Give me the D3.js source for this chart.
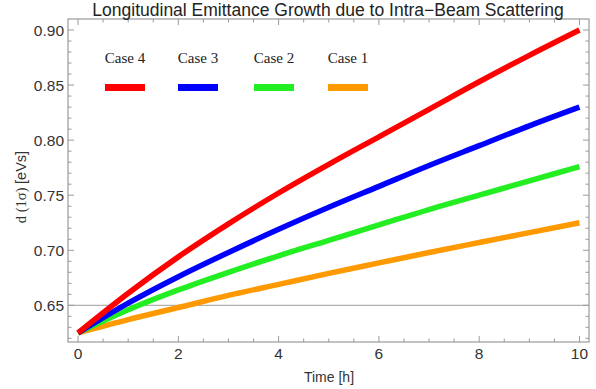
<!DOCTYPE html>
<html><head><meta charset="utf-8">
<script src="https://cdn.jsdelivr.net/npm/d3@7"></script>
<style>body{margin:0;background:#fff}svg{display:block}</style>
</head><body>
<svg id="c" width="596" height="389"></svg>
<script>
const hours = [0,1,2,3,4,5,6,7,8,9,10];
const case4 = [0.625,0.661,0.694,0.724,0.752,0.778,0.803,0.828,0.853,0.877,0.900];
const case3 = [0.625,0.652,0.676,0.698,0.719,0.739,0.758,0.777,0.795,0.813,0.830];
const case2 = [0.625,0.646,0.664,0.680,0.695,0.709,0.723,0.737,0.750,0.763,0.776];
const case1 = [0.625,0.637,0.648,0.659,0.669,0.679,0.6885,0.698,0.707,0.716,0.725];
const seriesNames = ["Case 4","Case 3","Case 2","Case 1"];
const seriesColors = ["#ff0000","#0000ff","#22ee22","#ff9900"];
const xTicks = [0,2,4,6,8,10];
const yTicks = [0.65,0.70,0.75,0.80,0.85,0.90];
const refLine = 0.65;

const svg = d3.select("#c");
const L=68,R=589,T=19,B=342;
const x = d3.scaleLinear().domain([-0.2,10.19]).range([L,R]);
const y = d3.scaleLinear().domain([0.6167,0.910]).range([B,T]);
const frame="#9a9a9a";

// reference line
svg.append("line").attr("x1",L).attr("x2",R).attr("y1",y(refLine)).attr("y2",y(refLine))
  .attr("stroke","#b0b0b0").attr("stroke-width",1.2);

// frame
svg.append("rect").attr("x",L).attr("y",T).attr("width",R-L).attr("height",B-T)
  .attr("fill","none").attr("stroke",frame).attr("stroke-width",1.2);

// ticks
const xMinor = d3.range(0,10.01,0.5);
xMinor.forEach(v=>{
  const major = xTicks.includes(v);
  const len = major?6:3.5;
  svg.append("line").attr("x1",x(v)).attr("x2",x(v)).attr("y1",B).attr("y2",B-len).attr("stroke",frame);
  svg.append("line").attr("x1",x(v)).attr("x2",x(v)).attr("y1",T).attr("y2",T+len).attr("stroke",frame);
});
const yMinor = d3.range(62,91).map(d=>d/100);
yMinor.forEach(v=>{
  const major = yTicks.some(t=>Math.abs(t-v)<1e-9);
  const len = major?6:3.5;
  svg.append("line").attr("x1",L).attr("x2",L+len).attr("y1",y(v)).attr("y2",y(v)).attr("stroke",frame);
  svg.append("line").attr("x1",R).attr("x2",R-len).attr("y1",y(v)).attr("y2",y(v)).attr("stroke",frame);
});

// tick labels
const lab = "Liberation Sans, Arial, sans-serif";
svg.selectAll(".xl").data(xTicks).enter().append("text")
  .attr("x",d=>x(d)).attr("y",359).attr("text-anchor","middle")
  .attr("font-family",lab).attr("font-size",15.5).attr("fill","#333").text(d=>d);
svg.selectAll(".yl").data(yTicks).enter().append("text")
  .attr("x",64).attr("y",d=>y(d)+5.5).attr("text-anchor","end")
  .attr("font-family",lab).attr("font-size",15.5).attr("fill","#333").text(d=>d.toFixed(2));

// lines
const allSeries=[case4,case3,case2,case1];
const line = d3.line().x((d,i)=>x(hours[i])).y(d=>y(d)).curve(d3.curveMonotoneX);
allSeries.slice().reverse().forEach((s,k)=>{
  const i = allSeries.length-1-k;
  svg.append("path").attr("d",line(s)).attr("fill","none")
    .attr("stroke",seriesColors[i]).attr("stroke-width",5.5).attr("stroke-linecap","butt");
});

// legend
const legX=[125,198,274,348];
seriesNames.forEach((n,i)=>{
  svg.append("text").attr("x",legX[i]).attr("y",63).attr("text-anchor","middle")
    .attr("font-family","Liberation Serif, Times New Roman, serif").attr("font-size",15).attr("fill","#222").text(n);
  svg.append("rect").attr("x",legX[i]-20).attr("y",84).attr("width",40).attr("height",7).attr("fill",seriesColors[i]);
});

// title
svg.append("text").attr("x",328).attr("y",16).attr("text-anchor","middle")
  .attr("font-family",lab).attr("font-size",17.5).attr("fill","#222")
  .text("Longitudinal Emittance Growth due to Intra\u2212Beam Scattering");

// axis titles
svg.append("text").attr("x",329).attr("y",382).attr("text-anchor","middle")
  .attr("font-family",lab).attr("font-size",14).attr("fill","#333").text("Time [h]");
const yt = svg.append("text").attr("transform","translate(26,187) rotate(-90)").attr("text-anchor","middle")
  .attr("font-family",lab).attr("font-size",14.5).attr("fill","#333");
yt.append("tspan").attr("font-family","Liberation Serif, serif").text("d (1σ) ");
yt.append("tspan").text("[eVs]");
</script>
</body></html>
